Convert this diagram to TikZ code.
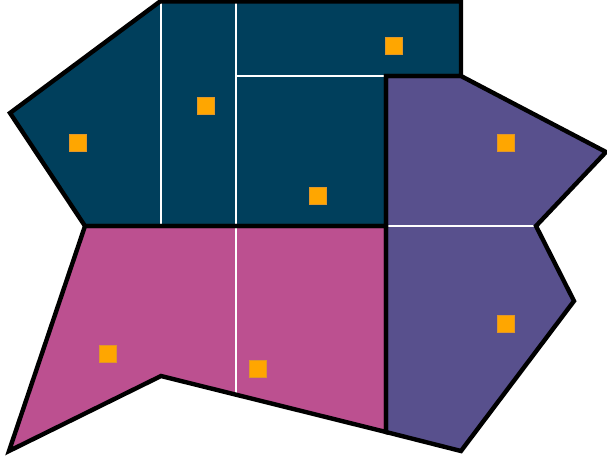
\documentclass[tikz,border=0pt]{standalone}
\definecolor{cblue}{HTML}{003F5C}
\definecolor{cpurple}{HTML}{58508D}
\definecolor{cpink}{HTML}{BC5090}
\definecolor{corange}{HTML}{FFA600}
\definecolor{corangeedge}{HTML}{E0962A}
\tikzset{
  outline/.style={draw=black,line width=4.4pt,line join=miter},
  divider/.style={draw=white,line width=2.2pt},
  site/.style={rectangle,fill=corange,draw=corangeedge,line width=0.6pt,minimum size=17pt,inner sep=0pt}
}
\begin{document}
\begin{tikzpicture}[x=1pt,y=-1pt]
\useasboundingbox (0,0) rectangle (607,459);
% regions
\fill[cblue] (160,1.5) -- (461,1.5) -- (461,76) -- (386,76) -- (386,226) -- (85,226) -- (10,113) -- cycle;
\fill[cpurple] (386,76) -- (461,76) -- (606,152) -- (536,226) -- (574,301) -- (461,451) -- (386,432) -- cycle;
\fill[cpink] (85,226) -- (386,226) -- (386,432) -- (161,376) -- (9,451) -- cycle;
% internal dividers
\draw[divider] (161,1.5) -- (161,226);
\draw[divider] (236,1.5) -- (236,226);
\draw[divider] (236,76) -- (386,76);
\draw[divider] (386,226) -- (536,226);
\draw[divider] (236,226) -- (236,394);
% outlines
\draw[outline] (160,1.5) -- (461,1.5) -- (461,76) -- (386,76) -- (386,226) -- (85,226) -- (10,113) -- cycle;
\draw[outline] (386,76) -- (461,76) -- (606,152) -- (536,226) -- (574,301) -- (461,451) -- (386,432) -- cycle;
\draw[outline] (85,226) -- (386,226) -- (386,432) -- (161,376) -- (9,451) -- cycle;
% sites
\node[site] (s1) at (78,143) {};
\node[site] (s2) at (206,106) {};
\node[site] (s3) at (393.5,45.5) {};
\node[site] (s4) at (318,196) {};
\node[site] (s5) at (506,143) {};
\node[site] (s6) at (506,324) {};
\node[site] (s7) at (108,354) {};
\node[site] (s8) at (258,369) {};
\end{tikzpicture}
\end{document}
